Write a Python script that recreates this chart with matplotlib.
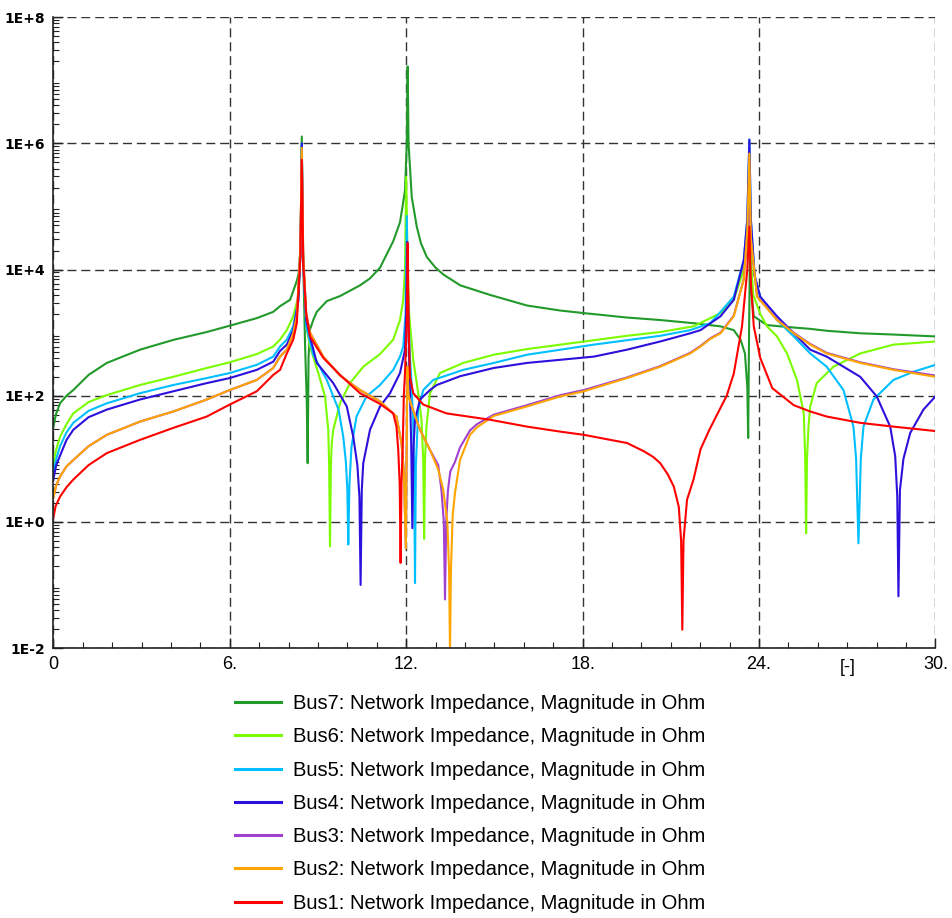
import matplotlib
matplotlib.use("Agg")
import matplotlib.pyplot as plt
import numpy as np
from matplotlib.ticker import FixedLocator, LogLocator, NullFormatter

# harmonic order [-] and |Z|, |Z| kept as log10(Ohm)
bus7_h = [0, 0.05, 0.1, 0.23, 0.45, 0.68, 1.2, 1.82, 2.95, 4.08, 5.22, 6.0, 6.92, 7.48, 7.71, 8.05, 8.16, 8.28, 8.35, 8.41,
          8.45, 8.49, 8.56, 8.62, 8.65, 8.68, 8.73, 8.84, 8.96, 9.3, 9.75, 10.43, 10.77, 11.11, 11.56, 11.79, 11.96,
          12.02, 12.05, 12.08, 12.19, 12.36, 12.5, 12.7, 13.0, 13.27, 13.84, 14.84, 16.11, 17.25, 18.04, 19.5, 20.64,
          21.77, 22.69, 23.14, 23.37, 23.52, 23.6, 23.63, 23.66, 23.69, 23.75, 23.82, 24.27, 24.95, 25.74, 26.3, 27.44,
          28.57, 30.0]
bus7_z = [1.49, 1.62, 1.72, 1.88, 2.0, 2.09, 2.33, 2.52, 2.73, 2.885, 3.01, 3.11, 3.23, 3.33, 3.42, 3.52, 3.66, 3.82, 3.95, 4.4,
          6.11, 4.3, 2.83, 1.9, 0.93, 2.6, 3.05, 3.2, 3.33, 3.5, 3.58, 3.75, 3.86, 4.03, 4.45, 4.75, 5.25,
          6.0, 7.22, 6.0, 5.15, 4.68, 4.42, 4.2, 4.03, 3.92, 3.75, 3.6, 3.43, 3.35, 3.31, 3.24, 3.2,
          3.15, 3.10, 3.04, 2.89, 2.67, 2.14, 1.33, 3.0, 4.3, 3.6, 3.26, 3.12, 3.09, 3.06, 3.03, 2.99,
          2.97, 2.94]

bus6_h = [0, 0.1, 0.23, 0.45, 0.68, 1.2, 1.82, 2.95, 4.08, 5.22, 6.0, 6.92, 7.48, 7.71, 7.94, 8.16, 8.33, 8.41, 8.45, 8.49,
          8.6, 8.73, 9.01, 9.24, 9.35, 9.38, 9.41, 9.44, 9.47, 9.52, 9.75, 10.09, 10.54, 11.11, 11.56, 11.79, 11.9, 11.96,
          12.0, 12.04, 12.1, 12.24, 12.41, 12.52, 12.58, 12.61, 12.64, 12.69, 12.81, 13.15, 13.94, 14.98, 16.11, 17.25,
          18.38, 19.51, 20.64, 21.77, 22.69, 23.14, 23.48, 23.67, 23.8, 24.04, 24.27, 24.61, 24.95, 25.29, 25.52, 25.57,
          25.6, 25.63, 25.68, 25.74, 25.96, 26.53, 27.44, 28.57, 30.0]
bus6_z = [0.93, 1.15, 1.35, 1.55, 1.72, 1.9, 2.01, 2.17, 2.30, 2.44, 2.53, 2.66, 2.78, 2.89, 3.04, 3.26, 3.57, 4.4, 5.95, 4.3,
          3.1, 2.78, 2.36, 1.99, 1.46, 0.9, -0.39, 0.9, 1.25, 1.46, 1.88, 2.2, 2.46, 2.66, 2.89, 3.2, 3.52, 4.0,
          5.47, 4.3, 3.3, 2.57, 2.04, 1.62, 0.98, -0.27, 0.98, 1.51, 2.04, 2.36, 2.52, 2.65, 2.74, 2.81,
          2.88, 2.95, 3.01, 3.10, 3.31, 3.52, 4.0, 4.6, 3.6, 3.3, 3.10, 2.94, 2.67, 2.25, 1.72, 1.0,
          -0.18, 1.0, 1.5, 1.83, 2.2, 2.46, 2.67, 2.81, 2.86]

bus5_h = [0, 0.1, 0.23, 0.45, 0.68, 1.2, 1.82, 2.95, 4.08, 5.22, 6.0, 6.92, 7.48, 7.71, 7.94, 8.16, 8.33, 8.41, 8.45, 8.49,
          8.6, 8.73, 8.84, 9.3, 9.7, 9.86, 9.95, 10.0, 10.03, 10.07, 10.14, 10.31, 10.65, 11.11, 11.56, 11.79, 11.9,
          11.98, 12.02, 12.06, 12.13, 12.19, 12.24, 12.27, 12.3, 12.33, 12.41, 12.58, 12.92, 13.94, 14.98, 16.11, 17.25,
          18.38, 19.51, 20.64, 21.66, 22.34, 22.69, 23.14, 23.48, 23.6, 23.67, 23.72, 23.85, 24.04, 24.61, 25.18, 25.74,
          26.3, 26.87, 27.21, 27.3, 27.38, 27.46, 27.55, 27.89, 28.57, 29.25, 30.0]
bus5_z = [0.77, 1.0, 1.2, 1.42, 1.57, 1.76, 1.88, 2.04, 2.17, 2.28, 2.36, 2.49, 2.62, 2.78, 2.89, 3.10, 3.5, 4.3, 6.0, 4.2,
          3.1, 2.85, 2.65, 2.25, 1.78, 1.35, 0.95, 0.5, -0.36, 0.6, 1.19, 1.67, 1.99, 2.17, 2.41, 2.62, 2.78,
          3.3, 4.85, 3.5, 2.6, 2.14, 1.5, 0.8, -0.97, 0.9, 1.78, 2.09, 2.25, 2.41, 2.52, 2.65, 2.73,
          2.81, 2.88, 2.95, 3.04, 3.15, 3.33, 3.57, 4.15, 4.8, 6.06, 4.8, 3.9, 3.57, 3.2, 2.94, 2.67,
          2.46, 2.09, 1.51, 1.0, -0.34, 1.0, 1.51, 1.94, 2.25, 2.38, 2.49]

bus4_h = [0, 0.1, 0.23, 0.45, 0.68, 1.2, 1.82, 2.95, 4.08, 5.22, 6.0, 6.92, 7.48, 7.71, 7.94, 8.16, 8.33, 8.41, 8.45, 8.49,
          8.6, 8.73, 8.96, 9.52, 9.98, 10.2, 10.34, 10.41, 10.45, 10.49, 10.54, 10.77, 11.11, 11.45, 11.79, 11.96, 12.0,
          12.04, 12.08, 12.13, 12.17, 12.21, 12.25, 12.3, 12.47, 12.81, 13.04, 13.84, 14.98, 16.11, 17.25, 18.38, 19.51,
          20.64, 21.66, 22.01, 22.69, 23.14, 23.48, 23.6, 23.67, 23.72, 23.85, 24.04, 24.61, 25.18, 25.74, 26.3, 27.44,
          28.0, 28.46, 28.63, 28.7, 28.74, 28.79, 28.91, 29.14, 29.59, 30.0]
bus4_z = [0.67, 0.9, 1.05, 1.3, 1.46, 1.66, 1.78, 1.94, 2.07, 2.2, 2.28, 2.41, 2.54, 2.71, 2.81, 3.04, 3.5, 4.3, 6.0, 4.2,
          3.2, 2.94, 2.52, 2.2, 1.83, 1.35, 0.9, 0.4, -1.0, 0.5, 0.93, 1.46, 1.83, 2.04, 2.36, 2.73, 3.3,
          4.44, 3.0, 2.04, 1.25, -0.1, 1.2, 1.62, 1.94, 2.09, 2.17, 2.31, 2.44, 2.52, 2.57, 2.62, 2.73,
          2.86, 2.99, 3.04, 3.26, 3.52, 4.15, 4.8, 6.06, 4.8, 3.9, 3.57, 3.26, 2.99, 2.73, 2.62, 2.30,
          1.99, 1.51, 1.04, 0.4, -1.18, 0.5, 1.0, 1.41, 1.78, 1.99]

bus3_h = [0, 0.1, 0.23, 0.45, 0.68, 1.2, 1.82, 2.95, 4.08, 5.22, 6.0, 6.92, 7.48, 7.71, 7.94, 8.16, 8.28, 8.4, 8.45, 8.5,
          8.6, 8.73, 9.18, 9.75, 10.43, 11.11, 11.67, 11.84, 11.92, 11.99, 12.01, 12.04, 12.08, 12.19, 12.47, 12.81,
          13.09, 13.2, 13.28, 13.32, 13.36, 13.42, 13.5, 13.66, 13.83, 14.17, 14.41, 14.98, 16.11, 17.25, 18.04, 19.51,
          20.64, 21.66, 22.01, 22.34, 22.69, 23.14, 23.48, 23.6, 23.67, 23.72, 23.93, 24.61, 25.18, 25.74, 26.3, 27.44,
          28.57, 30.0]
bus3_z = [0.38, 0.58, 0.72, 0.88, 0.98, 1.2, 1.38, 1.59, 1.75, 1.94, 2.09, 2.25, 2.44, 2.62, 2.73, 2.99, 3.26, 4.3, 5.8, 4.2,
          3.3, 3.0, 2.62, 2.32, 2.09, 1.91, 1.67, 1.25, 0.8, -0.42, 0.8, 2.46, 2.0, 1.83, 1.46, 1.14,
          0.9, 0.5, 0.0, -1.23, 0.0, 0.5, 0.8, 0.95, 1.18, 1.45, 1.55, 1.7, 1.85, 2.01, 2.09, 2.29,
          2.47, 2.68, 2.79, 2.91, 3.0, 3.27, 3.85, 4.6, 4.95, 4.5, 3.58, 3.21, 3.0, 2.82, 2.68, 2.53,
          2.42, 2.32]

bus2_h = [0, 0.1, 0.23, 0.45, 0.68, 1.2, 1.82, 2.95, 4.08, 5.22, 6.0, 6.92, 7.48, 7.71, 7.94, 8.16, 8.28, 8.4, 8.45, 8.5,
          8.6, 8.73, 9.18, 9.75, 10.43, 11.11, 11.67, 11.84, 11.92, 11.99, 12.01, 12.04, 12.08, 12.19, 12.47, 12.81,
          13.09, 13.26, 13.4, 13.46, 13.49, 13.52, 13.58, 13.66, 13.83, 14.17, 14.41, 14.98, 16.11, 17.25, 18.04, 19.51,
          20.64, 21.66, 22.01, 22.34, 22.69, 23.14, 23.48, 23.6, 23.67, 23.72, 23.93, 24.61, 25.18, 25.74, 26.3, 27.44,
          28.57, 30.0]
bus2_z = [0.38, 0.58, 0.72, 0.88, 0.98, 1.2, 1.38, 1.59, 1.75, 1.94, 2.09, 2.25, 2.44, 2.62, 2.73, 2.99, 3.26, 4.3, 5.93, 4.2,
          3.3, 3.0, 2.62, 2.32, 2.09, 1.91, 1.67, 1.25, 0.8, -0.42, 0.8, 2.46, 2.0, 1.83, 1.46, 1.14,
          0.83, 0.51, 0.0, -0.8, -2.05, -0.8, 0.1, 0.46, 0.98, 1.38, 1.5, 1.68, 1.83, 1.99, 2.07, 2.28,
          2.46, 2.67, 2.78, 2.9, 2.99, 3.26, 3.84, 4.6, 5.84, 4.5, 3.57, 3.2, 2.99, 2.81, 2.67, 2.52,
          2.41, 2.30]

bus1_h = [0, 0.08, 0.23, 0.45, 0.68, 1.2, 1.82, 2.95, 4.08, 5.22, 6.0, 6.92, 7.48, 7.71, 7.94, 8.16, 8.28, 8.4, 8.45, 8.5,
          8.6, 8.73, 9.18, 9.75, 10.43, 11.11, 11.56, 11.67, 11.73, 11.78, 11.81, 11.84, 11.88, 11.92, 11.96, 12.02,
          12.05, 12.08, 12.13, 12.24, 12.58, 13.37, 14.84, 16.11, 17.25, 18.04, 19.51, 20.08, 20.4, 20.64, 20.9, 21.1,
          21.27, 21.35, 21.39, 21.43, 21.55, 21.77, 22.01, 22.3, 22.68, 22.9, 23.14, 23.42, 23.6, 23.67, 23.72, 23.82,
          24.04, 24.45, 25.18, 25.74, 26.3, 27.44, 28.57, 30.0]
bus1_z = [0.06, 0.25, 0.40, 0.55, 0.67, 0.9, 1.09, 1.30, 1.49, 1.67, 1.86, 2.07, 2.33, 2.41, 2.67, 2.89, 3.15, 4.2, 5.74, 4.1,
          3.3, 2.94, 2.6, 2.33, 2.04, 1.87, 1.72, 1.51, 1.14, 0.6, -0.65, 0.6, 1.14, 2.0, 2.36, 3.2,
          4.42, 3.2, 2.30, 2.04, 1.86, 1.72, 1.62, 1.51, 1.43, 1.38, 1.25, 1.12, 1.03, 0.93, 0.75, 0.56,
          0.24, -0.3, -1.71, -0.3, 0.35, 0.67, 1.15, 1.45, 1.8, 2.0, 2.35, 3.1, 4.0, 4.68, 3.8, 3.1,
          2.6, 2.12, 1.85, 1.75, 1.67, 1.57, 1.51, 1.44]

labels = ["Bus7", "Bus6", "Bus5", "Bus4", "Bus3", "Bus2", "Bus1"]
colors = ["#229a2a", "#7cfc00", "#00bfff", "#2c10dc", "#a040d0", "#ffa500", "#ff0000"]
series = [(bus7_h, bus7_z), (bus6_h, bus6_z), (bus5_h, bus5_z), (bus4_h, bus4_z),
          (bus3_h, bus3_z), (bus2_h, bus2_z), (bus1_h, bus1_z)]

x_ticks = [0, 6, 12, 18, 24, 30]
x_ticklabels = ["0", "6.", "12.", "18.", "24.", "30."]
y_ticks = [1e-2, 1e0, 1e2, 1e4, 1e6, 1e8]
y_ticklabels = ["1E-2", "1E+0", "1E+2", "1E+4", "1E+6", "1E+8"]

narrow = ["Liberation Sans Narrow", "Liberation Sans", "DejaVu Sans"]

fig = plt.figure(figsize=(9.53, 9.18), dpi=100)
ax = fig.add_axes([53.3 / 953, 1 - 648 / 918, (935.5 - 53.3) / 953, (648 - 17.3) / 918])

for (h, z), lab, col in zip(series, labels, colors):
    ax.plot(h, 10 ** np.array(z), color=col, lw=1.5,
            label=f"{lab}: Network Impedance, Magnitude in Ohm")

ax.set_yscale("log")
ax.set_xlim(0, 30)
ax.set_ylim(1e-2, 1e8)

ax.xaxis.set_major_locator(FixedLocator(x_ticks))
ax.xaxis.set_minor_locator(FixedLocator(np.arange(0, 31, 1)))
ax.set_xticklabels(x_ticklabels)
ax.yaxis.set_major_locator(FixedLocator(y_ticks))
ax.yaxis.set_minor_locator(LogLocator(base=10, subs=np.arange(2, 10), numticks=20))
ax.yaxis.set_minor_formatter(NullFormatter())
ax.set_yticklabels(y_ticklabels)

ax.tick_params(which="both", direction="in", color="#222222")
ax.tick_params(which="major", length=7, width=1)
ax.tick_params(which="minor", length=4.5, width=0.8)
ax.tick_params(axis="x", labelsize=13, pad=6)
ax.tick_params(axis="y", labelsize=10, pad=6)
for t in ax.get_xticklabels():
    t.set_family(narrow)
for t in ax.get_yticklabels():
    t.set_family("DejaVu Sans")
    t.set_fontweight("bold")

ax.text(27, -0.017, "[-]", transform=ax.get_xaxis_transform(), ha="center", va="top",
        fontsize=13, family=narrow)

ax.grid(True, which="major", color="#333333", lw=1.0, dashes=(6.5, 3.5))
ax.set_axisbelow(True)
for s in ["top", "right"]:
    ax.spines[s].set_visible(False)
for s in ["left", "bottom"]:
    ax.spines[s].set_color("#222222")
    ax.spines[s].set_linewidth(1.2)

leg = fig.legend(loc="upper left", bbox_to_anchor=(235 / 953, 1 - 694 / 918), frameon=False,
                 prop={"family": "Liberation Sans", "size": 14.5}, handlelength=2.3,
                 handletextpad=0.6, labelspacing=0.71, borderpad=0, borderaxespad=0)
for line in leg.get_lines():
    line.set_linewidth(2.2)

fig.savefig("out.png", dpi=100, facecolor="white")
